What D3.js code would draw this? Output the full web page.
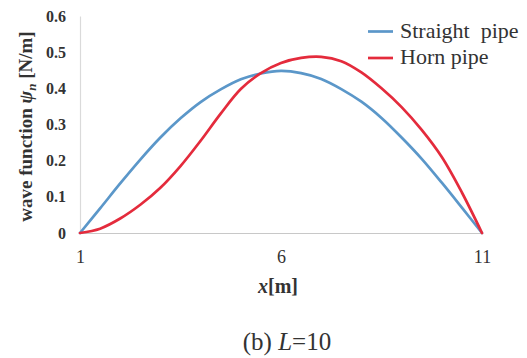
<!DOCTYPE html>
<html>
<head>
<meta charset="utf-8">
<script src="https://cdn.jsdelivr.net/npm/d3@7"></script>
<style>
  html, body { margin: 0; padding: 0; background: #fff; }
  svg { display: block; font-family: "Liberation Serif", "Times New Roman", serif; }
</style>
</head>
<body>
<svg id="chart" width="527" height="358"></svg>
<script>
// Position along the pipe (m)
const xValues = [1, 1.5, 2, 2.5, 3, 3.5, 4, 4.5, 5, 5.5, 6, 6.5, 7, 7.5, 8, 8.5, 9, 9.5, 10, 10.5, 11];
// Wave function for the straight pipe (N/m)
const straightPipe = [0, 0.068, 0.137, 0.203, 0.264, 0.317, 0.362, 0.397, 0.425, 0.441, 0.448, 0.442, 0.426, 0.398, 0.363, 0.318, 0.264, 0.205, 0.139, 0.070, 0];
// Wave function for the horn pipe (N/m)
const hornPipe = [0, 0.012, 0.040, 0.078, 0.125, 0.185, 0.255, 0.330, 0.398, 0.442, 0.470, 0.484, 0.487, 0.475, 0.444, 0.400, 0.348, 0.285, 0.210, 0.112, 0];
const seriesNames = ["Straight  pipe", "Horn pipe"];
const seriesColors = ["#5b97c9", "#e42b3c"];
const xTicks = [1, 6, 11];
const yTicks = [0, 0.1, 0.2, 0.3, 0.4, 0.5, 0.6];

const svg = d3.select("#chart");
const margin = { left: 80, right: 45, top: 16, bottom: 125 };
const W = 527, H = 358;

const x = d3.scaleLinear().domain([1, 11]).range([margin.left, W - margin.right]);
const y = d3.scaleLinear().domain([0, 0.6]).range([H - margin.bottom, margin.top]);

// Axes
const xAxis = svg.append("g")
  .attr("transform", `translate(0,${y(0)})`)
  .call(d3.axisBottom(x).tickValues(xTicks).tickSize(0).tickPadding(17).tickFormat(d3.format("d")));
xAxis.select(".domain").attr("stroke", "#c8c8c8").attr("stroke-width", 1.2);
xAxis.selectAll("text").attr("font-size", 18).attr("fill", "#333")
  .attr("font-family", "Liberation Serif, serif");

const yAxis = svg.append("g")
  .attr("transform", `translate(${x(1)},0)`)
  .call(d3.axisLeft(y).tickValues(yTicks).tickSize(0).tickPadding(14)
    .tickFormat(d => d === 0 ? "0" : d3.format(".1f")(d)));
yAxis.select(".domain").attr("stroke", "#dadada").attr("stroke-width", 1.2);
yAxis.selectAll("text").attr("font-size", 16).attr("font-weight", "bold").attr("fill", "#333")
  .attr("font-family", "Liberation Serif, serif");

// Curves
const line = d3.line()
  .x((d, i) => x(xValues[i]))
  .y(d => y(d))
  .curve(d3.curveCatmullRom.alpha(0.5));

[straightPipe, hornPipe].forEach((vals, k) => {
  svg.append("path")
    .datum(vals)
    .attr("d", line)
    .attr("fill", "none")
    .attr("stroke", seriesColors[k])
    .attr("stroke-width", 2.7)
    .attr("stroke-linecap", "round");
});

// Legend
const legend = svg.append("g").attr("transform", "translate(368,31.5)");
seriesNames.forEach((name, k) => {
  const g = legend.append("g").attr("transform", `translate(0,${k * 26.5})`);
  g.append("line").attr("x1", 0).attr("x2", 25).attr("y1", 0).attr("y2", 0)
    .attr("stroke", seriesColors[k]).attr("stroke-width", 2.7);
  g.append("text").attr("x", 32).attr("y", 6).attr("font-size", 22).attr("fill", "#333")
    .style("white-space", "pre").text(name);
});

// Y axis title
const yTitle = svg.append("text")
  .attr("transform", `translate(32,${(y(0) + y(0.6)) / 2 + 2}) rotate(-90)`)
  .attr("text-anchor", "middle")
  .attr("font-size", 19).attr("font-weight", "bold").attr("fill", "#333");
yTitle.append("tspan").text("wave function ");
yTitle.append("tspan").attr("font-style", "italic").text("ψ");
yTitle.append("tspan").attr("font-style", "italic").attr("font-size", 13).attr("dy", 4).text("n");
yTitle.append("tspan").attr("dy", -4).text(" [N/m]");

// X axis title
const xTitle = svg.append("text")
  .attr("x", 278).attr("y", 293)
  .attr("text-anchor", "middle")
  .attr("font-size", 20).attr("font-weight", "bold").attr("fill", "#333");
xTitle.append("tspan").attr("font-style", "italic").text("x");
xTitle.append("tspan").text("[m]");

// Caption
const caption = svg.append("text")
  .attr("x", 287).attr("y", 350)
  .attr("text-anchor", "middle")
  .attr("font-size", 25).attr("fill", "#333");
caption.append("tspan").text("(b) ");
caption.append("tspan").attr("font-style", "italic").text("L");
caption.append("tspan").text("=10");
</script>
</body>
</html>
